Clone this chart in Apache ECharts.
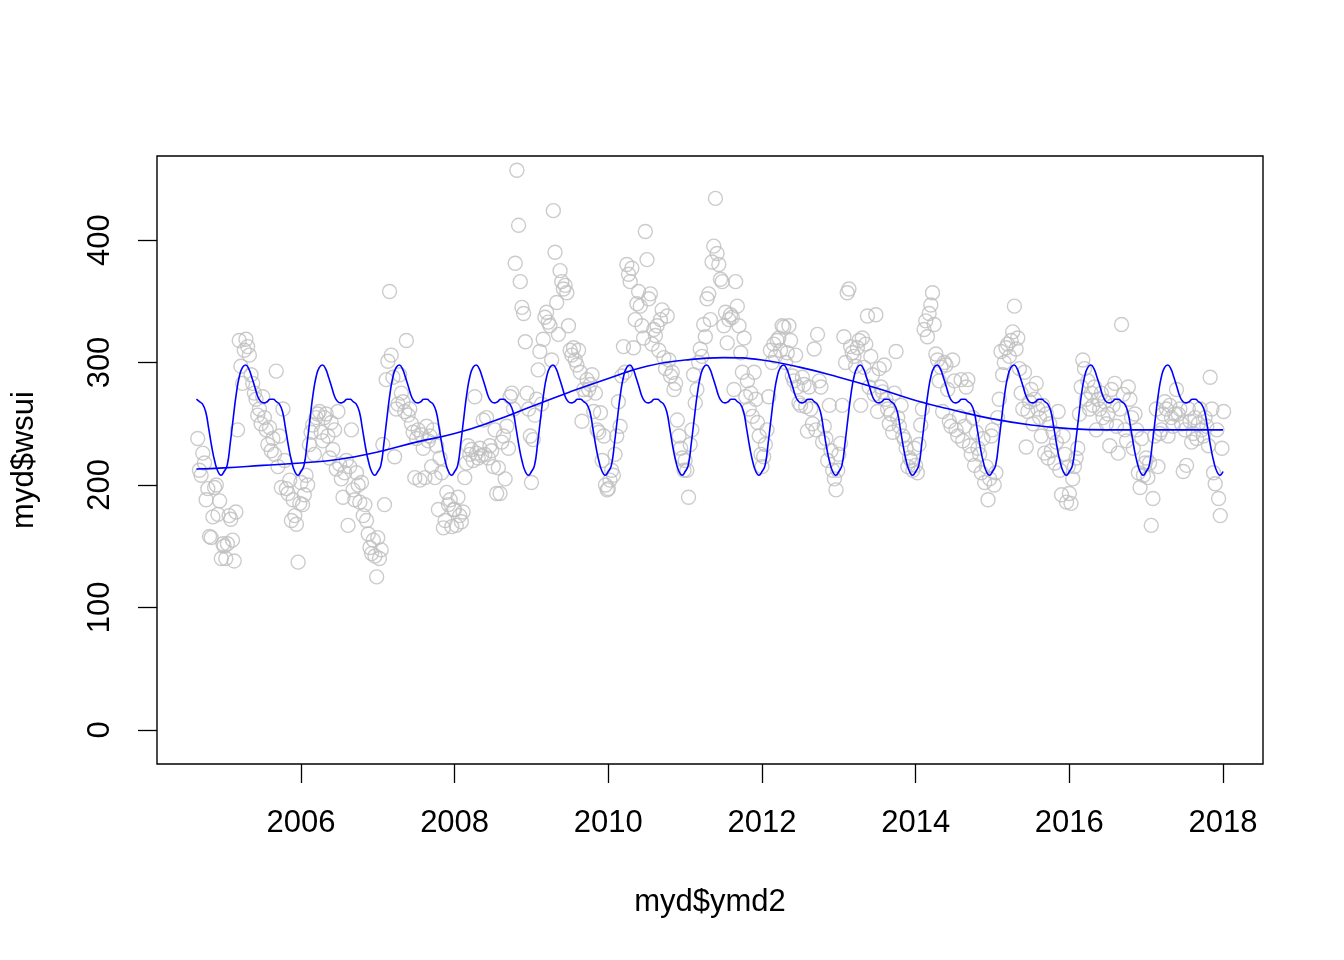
<!DOCTYPE html>
<html><head><meta charset="utf-8">
<script src="https://cdn.jsdelivr.net/npm/echarts@6/dist/echarts.min.js"></script>
<style>html,body{margin:0;padding:0;background:#fff}#c{width:1344px;height:960px}</style>
</head><body><div id="c"></div>
<script>
// tick labels
const xTicks = [2006, 2008, 2010, 2012, 2014, 2016, 2018];
const yTicks = [0, 100, 200, 300, 400];
// observation years (8-day composites); first year starts at day-of-year 241
const years = [2004, 2005, 2006, 2007, 2008, 2009, 2010, 2011, 2012, 2013, 2014, 2015, 2016, 2017];
const firstDoy = 241;
// myd$wsui values per year
const wsui2004 = [238, 212, 208, 226, 218, 188, 197, 158, 157, 174, 198, 200, 176, 187, 140, 152];
const wsui2005 = [150, 140, 152, 175, 172, 155, 138, 178, 245, 318, 297, 283, 310, 319, 313, 306, 290, 283, 275, 270, 257, 262, 250, 272, 255, 245, 233, 247, 228, 238, 225, 293, 215, 240, 198, 262, 220, 197, 193, 204, 171, 188, 175, 168, 137, 185];
const wsui2006 = [202, 184, 192, 208, 200, 233, 243, 249, 225, 255, 258, 260, 243, 236, 255, 258, 240, 222, 251, 229, 245, 213, 260, 217, 205, 190, 210, 220, 167, 215, 245, 196, 188, 210, 200, 186, 202, 175, 184, 171, 160, 149, 144, 155, 142, 125];
const wsui2007 = [157, 140, 147, 233, 184, 286, 301, 358, 306, 288, 223, 262, 266, 290, 275, 268, 260, 318, 257, 262, 250, 243, 206, 238, 245, 204, 241, 230, 206, 248, 236, 240, 215, 245, 206, 232, 180, 222, 210, 165, 171, 194, 184, 188, 166, 180];
const wsui2008 = [180, 167, 190, 175, 170, 178, 206, 218, 232, 225, 229, 220, 272, 226, 222, 230, 224, 253, 225, 255, 222, 232, 228, 215, 245, 193, 214, 193, 235, 240, 205, 248, 230, 272, 275, 262, 381, 457, 412, 366, 345, 340, 317, 275, 262, 240];
const wsui2009 = [202, 237, 257, 270, 294, 309, 266, 319, 337, 341, 333, 330, 302, 424, 390, 349, 323, 375, 366, 360, 363, 357, 330, 310, 306, 312, 302, 298, 310, 292, 252, 278, 274, 286, 278, 282, 290, 260, 275, 245, 243, 259, 220, 240, 200, 196];
const wsui2010 = [197, 204, 212, 208, 225, 240, 268, 248, 289, 313, 292, 380, 372, 366, 377, 312, 335, 348, 358, 346, 330, 320, 407, 384, 352, 356, 315, 327, 322, 330, 310, 335, 343, 304, 295, 338, 302, 289, 292, 278, 283, 253, 240, 230, 222, 212];
const wsui2011 = [220, 212, 190, 233, 245, 290, 267, 278, 300, 311, 305, 331, 321, 352, 356, 335, 382, 395, 434, 389, 380, 368, 366, 330, 341, 316, 335, 339, 337, 278, 366, 346, 330, 308, 292, 320, 272, 285, 262, 275, 256, 292, 270, 251, 240, 225];
const wsui2012 = [215, 223, 233, 245, 272, 310, 300, 315, 305, 318, 320, 310, 330, 329, 300, 308, 330, 318, 289, 285, 306, 280, 267, 265, 288, 282, 264, 244, 280, 262, 250, 311, 245, 323, 285, 280, 235, 248, 238, 220, 265, 228, 212, 205, 196, 212];
const wsui2013 = [225, 234, 265, 321, 300, 357, 360, 313, 308, 305, 297, 312, 318, 265, 320, 296, 315, 338, 280, 305, 290, 274, 339, 260, 295, 280, 276, 298, 270, 262, 250, 258, 243, 275, 309, 255, 248, 265, 240, 237, 230, 215, 222, 220, 212, 230];
const wsui2014 = [216, 210, 233, 249, 262, 327, 334, 321, 340, 347, 357, 331, 307, 302, 285, 296, 260, 300, 298, 278, 252, 248, 302, 285, 245, 240, 256, 286, 236, 248, 280, 286, 232, 225, 255, 216, 243, 230, 225, 210, 238, 202, 215, 188, 205, 240];
const wsui2015 = [245, 200, 210, 255, 270, 309, 290, 300, 312, 315, 305, 318, 325, 346, 311, 320, 295, 275, 262, 292, 231, 260, 268, 278, 250, 270, 283, 262, 255, 240, 265, 226, 258, 222, 250, 228, 243, 218, 235, 260, 212, 192, 240, 225, 186, 215];
const wsui2016 = [193, 185, 205, 215, 222, 230, 258, 280, 302, 295, 270, 285, 262, 275, 265, 280, 245, 270, 262, 275, 255, 268, 250, 258, 232, 278, 265, 283, 248, 226, 262, 331, 274, 245, 236, 280, 270, 255, 230, 258, 245, 210, 198, 238, 208, 218];
const wsui2017 = [222, 206, 218, 167, 189, 240, 262, 215, 242, 245, 258, 268, 262, 240, 265, 255, 248, 258, 278, 258, 262, 250, 211, 245, 216, 262, 252, 235, 242, 255, 238, 250, 262, 245, 240, 255, 248, 232, 288, 262, 210, 201, 245, 189, 175, 230, 260];
// seasonal fitted curve: one-year profile (fraction of year -> value)
const seasonFrac = [0.00, 0.04, 0.08, 0.12, 0.16, 0.20, 0.24, 0.28, 0.32, 0.36, 0.40, 0.44, 0.48, 0.52, 0.56, 0.60, 0.64, 0.68, 0.72, 0.76, 0.80, 0.84, 0.88, 0.92, 0.96];
const seasonVal  = [211, 216, 234, 255, 275, 289, 296, 298, 295, 288, 280, 272, 268, 267, 268, 270, 270, 268, 266, 260, 246, 231, 219, 211, 208];
const seasonStart = 2004.64, seasonEnd = 2018.0;
// long-term trend curve
const trendX = [2004.64, 2005.0, 2005.5, 2006.0, 2006.5, 2007.0, 2007.5, 2008.0, 2008.5, 2009.0, 2009.5, 2010.0, 2010.5, 2011.0, 2011.5, 2012.0, 2012.5, 2013.0, 2013.5, 2014.0, 2014.5, 2015.0, 2015.5, 2016.0, 2016.5, 2017.0, 2017.5, 2018.0];
const trendV = [213, 214, 216, 218, 221, 227, 235, 242, 252, 264, 276, 287, 297, 302, 304, 302, 296, 288, 279, 269, 261, 254, 249, 246, 245, 245, 245, 245];

const byYear = [wsui2004, wsui2005, wsui2006, wsui2007, wsui2008, wsui2009, wsui2010, wsui2011, wsui2012, wsui2013, wsui2014, wsui2015, wsui2016, wsui2017];
const pts = [];
years.forEach((y, k) => {
  const doy0 = k === 0 ? firstDoy : 1;
  byYear[k].forEach((v, i) => pts.push([y + (doy0 - 1 + 8 * i) / 365.25, v]));
});
const season = [];
for (let y = 2004; y <= 2018; y++) {
  seasonFrac.forEach((f, i) => {
    const x = y + f;
    if (x >= seasonStart - 1e-9 && x <= seasonEnd + 1e-9) season.push([x, seasonVal[i]]);
  });
}
const trend = trendX.map((x, i) => [x, trendV[i]]);

const FONT = 'Liberation Sans, Arial, Helvetica, sans-serif';
const chart = echarts.init(document.getElementById('c'), null, {renderer: 'canvas'});
chart.setOption({
  animation: false,
  backgroundColor: '#ffffff',
  grid: {left: 157, top: 156, width: 1106, height: 608, show: true, borderColor: '#000', borderWidth: 1.4, backgroundColor: 'transparent'},
  xAxis: {
    type: 'value', min: 2004.127, max: 2018.52,
    axisLine: {show: false, onZero: false},
    splitLine: {show: false},
    axisTick: {show: true, customValues: xTicks, length: 19, lineStyle: {color: '#000', width: 1.3}},
    axisLabel: {customValues: xTicks, fontSize: 31, color: '#000', margin: 44, fontFamily: FONT,
                formatter: v => String(Math.round(v))},
    name: 'myd$ymd2', nameLocation: 'middle', nameGap: 123,
    nameTextStyle: {fontSize: 31, color: '#000', fontFamily: FONT}
  },
  yAxis: {
    type: 'value', min: -27.8, max: 468.6,
    axisLine: {show: false, onZero: false},
    splitLine: {show: false},
    axisTick: {show: true, customValues: yTicks, length: 19, lineStyle: {color: '#000', width: 1.3}},
    axisLabel: {customValues: yTicks, fontSize: 31, color: '#000', margin: 41, rotate: 90, fontFamily: FONT,
                formatter: v => String(Math.round(v))},
    name: 'myd$wsui', nameLocation: 'middle', nameGap: 117, nameRotate: 90,
    nameTextStyle: {fontSize: 31, color: '#000', fontFamily: FONT}
  },
  series: [
    {type: 'scatter', data: pts, symbol: 'circle', symbolSize: 14, silent: true,
     itemStyle: {color: 'rgba(0,0,0,0)', borderColor: '#BEBEBE', borderWidth: 1.4}},
    {type: 'line', data: season, smooth: true, symbol: 'none', silent: true,
     lineStyle: {color: '#0000FF', width: 1.6}},
    {type: 'line', data: trend, smooth: true, symbol: 'none', silent: true,
     lineStyle: {color: '#0000FF', width: 1.6}}
  ]
});
</script></body></html>
